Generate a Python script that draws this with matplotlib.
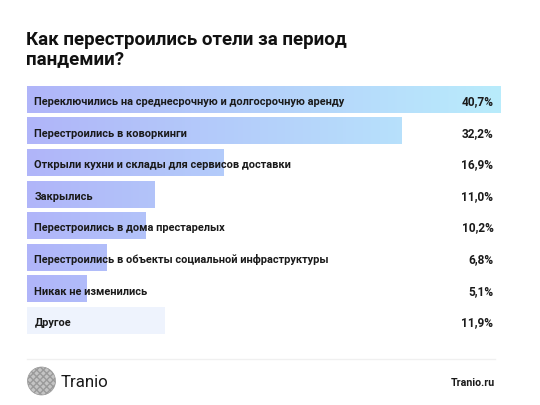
import numpy as np
import matplotlib
matplotlib.use("Agg")
import matplotlib.pyplot as plt
from matplotlib.colors import LinearSegmentedColormap
from matplotlib.patches import Ellipse

# данные
labels = [
    "Переключились на среднесрочную и долгосрочную аренду",
    "Перестроились в коворкинги",
    "Открыли кухни и склады для сервисов доставки",
    "Закрылись",
    "Перестроились в дома престарелых",
    "Перестроились в объекты социальной инфраструктуры",
    "Никак не изменились",
    "Другое",
]
values = [40.7, 32.2, 16.9, 11.0, 10.2, 6.8, 5.1, 11.9]
value_text = ["40,7%", "32,2%", "16,9%", "11,0%", "10,2%", "6,8%", "5,1%", "11,9%"]
title = "Как перестроились отели за период\nпандемии?"

W, H = 540, 406
FONT = ["Roboto", "DejaVu Sans"]

fig = plt.figure(figsize=(W / 100, H / 100), dpi=100)
fig.patch.set_facecolor("white")
ax = fig.add_axes([0, 0, 1, 1])
ax.axis("off")

# масштаб: 0% -> x=27px, 40.7% -> x=500.5px
x0_px = 27
scale = (500.5 - x0_px) / 40.7


def px(xp):
    return (xp - x0_px) / scale


renderer = fig.canvas.get_renderer()


def fit(txt, target_w, **kw):
    # подбираем размер шрифта под ширину из референса
    t = fig.text(0, 0, txt, fontsize=10, **kw)
    w = t.get_window_extent(renderer).width
    t.remove()
    return 10 * target_w / w


bar_h = 27
pitch = 31.6
top0 = 86.7
centers = [top0 + bar_h / 2 + i * pitch for i in range(len(values))]

cmap = LinearSegmentedColormap.from_list("g", ["#b0b5f9", "#b9ecfc"])
grad = np.linspace(0, 1, 256).reshape(1, -1)

for i, (v, c) in enumerate(zip(values, centers)):
    if labels[i] == "Другое":
        ax.barh(c, v, height=bar_h, left=0, color="#eef3fd", zorder=1)
        continue
    bar = ax.barh(c, v, height=bar_h, left=0, color="none", zorder=1)[0]
    im = ax.imshow(grad, cmap=cmap, aspect="auto", zorder=1,
                   extent=(0, max(values[:-1]), c + bar_h / 2, c - bar_h / 2),
                   interpolation="bilinear")
    im.set_clip_path(bar)

ax.set_xlim(-x0_px / scale, (W - x0_px) / scale)
ax.set_ylim(H, 0)

lab_size = fit(labels[0], 310, family=FONT, weight="bold")
val_size = fit("40,7%", 32, family=FONT, weight="bold")
for lab, vt, c in zip(labels, value_text, centers):
    ax.text(px(34.5), c + 4.8, lab, ha="left", va="baseline", fontsize=lab_size,
            family=FONT, weight="bold", color="#1a1a1a", zorder=3)
    ax.text(px(493.5), c + 5.0, vt, ha="right", va="baseline", fontsize=val_size,
            family=FONT, weight="bold", color="#1a1a1a", zorder=3)

# заголовок
t_size = fit("Как перестроились отели за период", 322, family=FONT, weight="bold")
fig.text(26 / W, 1 - 31 / H, title, ha="left", va="top", fontsize=t_size,
         family=FONT, weight="bold", color="#111111", linespacing=1.05)

# подвал
ax.plot([px(27), px(495)], [359.5, 359.5], color="#f0f0f0", lw=1.0, zorder=1)
logo = Ellipse((px(41.5), 382), 28 / scale, 28, facecolor="#c4c4c4",
               edgecolor="#9a9a9a", hatch="xxxxx", lw=0.5, zorder=2)
ax.add_patch(logo)
tr_size = fit("Tranio", 48, family=FONT)
fig.text(60.5 / W, 1 - 383 / H, "Tranio", ha="left", va="center",
         fontsize=tr_size, family=FONT, color="#1a1a1a")
ru_size = fit("Tranio.ru", 44, family=FONT, weight="bold")
fig.text(494.5 / W, 1 - 383 / H, "Tranio.ru", ha="right", va="center",
         fontsize=ru_size, family=FONT, weight="bold", color="#1a1a1a")

fig.savefig("out.png", dpi=100, facecolor="white")
